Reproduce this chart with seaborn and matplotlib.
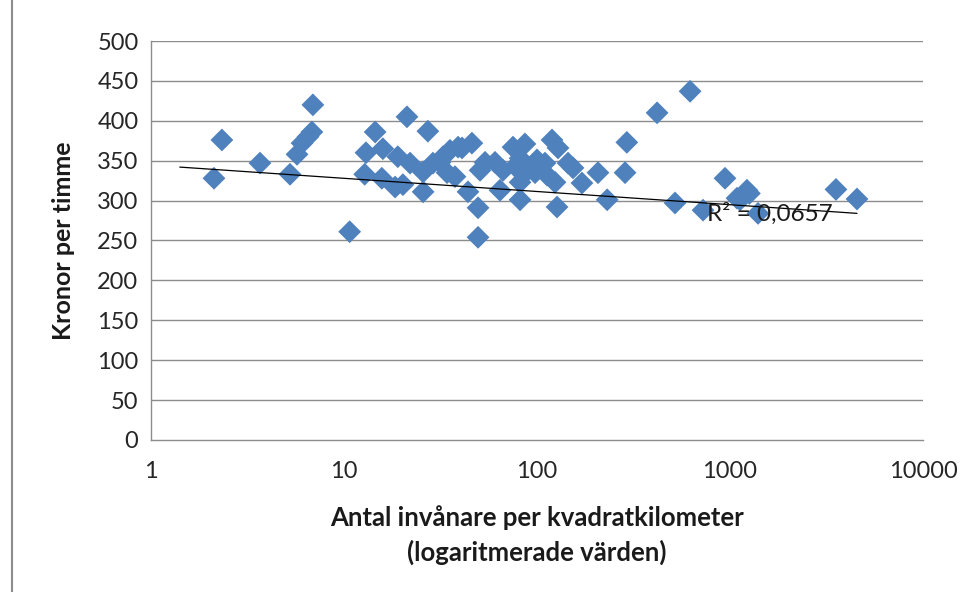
import matplotlib
matplotlib.use("Agg")
import matplotlib.pyplot as plt
from matplotlib.lines import Line2D
import pandas as pd
import seaborn as sns

# invånare per km2 (x) och kronor per timme (y)
density = [2.12, 2.33, 3.67, 5.25, 5.71, 6.06, 6.51, 6.82, 6.9, 10.7,
           14.5, 13.0, 12.8, 15.9, 15.7, 18.4, 20.2, 21.2, 27.2, 19.0,
           22.0, 25.7, 25.7, 28.9, 31.4, 34.2, 35.4, 39.0, 46.0, 32.6,
           37.6, 43.9, 49.5, 49.5, 53.8, 60.6, 50.7, 64.3, 66.7, 75.1,
           86.6, 81.7, 119.6, 128.5, 144.8, 110.0, 97.7, 81.7, 76.9, 89.8,
           100.0, 112.7, 153.7, 124.0, 171.0, 207.0, 286.0, 292.0, 419.0, 81.7,
           127.0, 231.0, 621.0, 519.0, 725.0, 942.0, 1087.0, 1224.0, 1260.0, 1127.0,
           1397.0, 3540.0, 4550.0, 40.9]
kronor = [328, 376, 347, 333, 358, 372, 380, 386, 420, 261,
          386, 360, 333, 365, 328, 317, 320, 405, 387, 355,
          347, 311, 336, 347, 348, 335, 363, 367, 372, 355,
          330, 311, 291, 254, 348, 348, 338, 313, 338, 367,
          371, 353, 376, 366, 347, 347, 335, 323, 343, 338,
          351, 332, 341, 323, 322, 335, 335, 373, 410, 301,
          292, 301, 437, 297, 288, 328, 303, 313, 309, 301,
          284, 314, 302, 366]

# trendlinjens ändpunkter (logaritmisk trend i Excel)
trend_x = [1.41, 4550]
trend_y = [342, 284]
r2_label = "R² = 0,0657"

y_ticks = list(range(0, 501, 50))
x_ticks = [1, 10, 100, 1000, 10000]

sns.set_style("white")
plt.rcParams["font.family"] = ["Lato", "DejaVu Sans"]

df = pd.DataFrame({"tathet": density, "kronor": kronor})

fig = plt.figure(figsize=(9.76, 5.92), dpi=100)
ax = fig.add_axes([0.1547, 0.2568, 0.7910, 0.6739])

grid_col = "#8c8c8c"
for v in y_ticks[1:]:
    ax.axhline(v, color=grid_col, lw=1.0, zorder=0)

sns.scatterplot(data=df, x="tathet", y="kronor", marker="D", s=135,
                color="#4F81BD", edgecolor="none", linewidth=0, ax=ax, zorder=3)
ax.plot(trend_x, trend_y, color="black", lw=0.9, zorder=4)
ax.text(760, 284, r2_label, fontsize=17.5, color="#1a1a1a", ha="left", va="center", zorder=5)

ax.set_xscale("log")
ax.set_xlim(1, 10000)
ax.set_ylim(0, 500)
ax.set_xticks(x_ticks)
ax.set_xticklabels([str(t) for t in x_ticks])
ax.set_yticks(y_ticks)
ax.minorticks_off()
ax.tick_params(axis="both", labelsize=17, colors="#262626", length=5, width=1,
               color=grid_col, direction="out", pad=4)
ax.tick_params(axis="x", pad=10)

for side in ["top", "right"]:
    ax.spines[side].set_visible(False)
for side in ["left", "bottom"]:
    ax.spines[side].set_color(grid_col)
    ax.spines[side].set_linewidth(1.0)

ax.set_xlabel("Antal invånare per kvadratkilometer\n(logaritmerade värden)",
              fontsize=18.5, fontweight="bold", color="#1a1a1a", labelpad=17, linespacing=1.45)
ax.set_ylabel("Kronor per timme", fontsize=18, fontweight="bold", color="#1a1a1a", labelpad=16)

# ram runt diagrammet (bara vänsterkanten syns)
fig.add_artist(Line2D([12 / 976, 12 / 976], [0, 1], color="#8c8c8c", lw=1.5))

fig.savefig("out.png", dpi=100)
